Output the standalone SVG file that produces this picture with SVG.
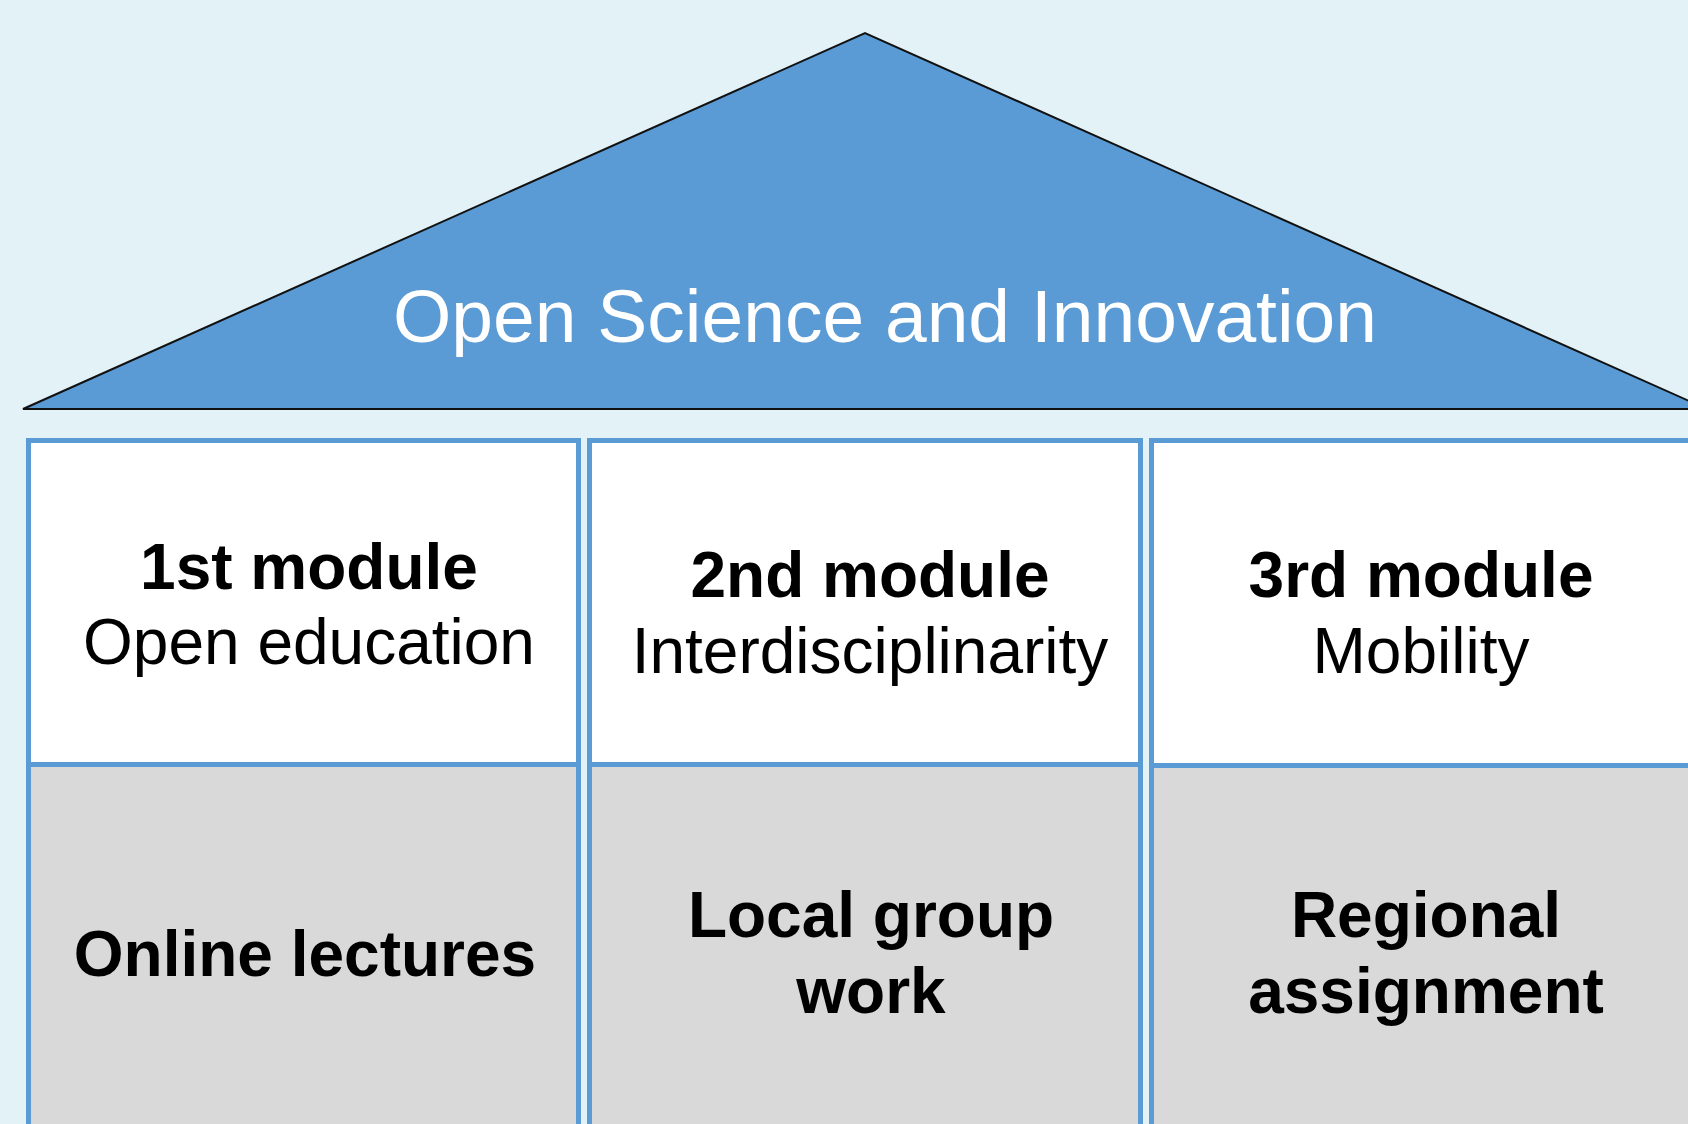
<svg xmlns="http://www.w3.org/2000/svg" width="1688" height="1124" viewBox="0 0 1688 1124">
<style>
.bg{fill:#E2F2F7}
.roof{fill:#5B9BD5;stroke:#111111;stroke-width:2;stroke-linejoin:miter}
.top{fill:#FFFFFF;stroke:#5B9BD5;stroke-width:5}
.bot{fill:#D9D9D9;stroke:#5B9BD5;stroke-width:5}
text{font-family:"Liberation Sans",Arial,sans-serif;text-anchor:middle;fill:#000000}
.title{font-size:75px;fill:#FFFFFF}
.b{font-size:64px;font-weight:bold}
.r{font-size:64px}
</style>
<rect class="bg" x="0" y="0" width="1688" height="1124"/>
<g id="roof">
<polygon class="roof" points="23,409 865,33 1707,409"/>
<text class="title" x="885" y="342">Open Science and Innovation</text>
</g>
<g id="module1">
<rect class="top" x="28.5" y="440.5" width="550" height="324"/>
<rect class="bot" x="28.5" y="764.5" width="550" height="400"/>
<text class="b" x="309" y="589">1st module</text>
<text class="r" x="309" y="664">Open education</text>
<text class="b" x="305" y="976">Online lectures</text>
</g>
<g id="module2">
<rect class="top" x="589.5" y="440.5" width="551" height="324"/>
<rect class="bot" x="589.5" y="764.5" width="551" height="400"/>
<text class="b" x="870" y="597">2nd module</text>
<text class="r" x="870" y="673">Interdisciplinarity</text>
<text class="b" x="871" y="937">Local group</text>
<text class="b" x="871" y="1013">work</text>
</g>
<g id="module3">
<rect class="top" x="1151.5" y="440.5" width="551" height="325"/>
<rect class="bot" x="1151.5" y="765.5" width="551" height="400"/>
<text class="b" x="1421" y="597">3rd module</text>
<text class="r" x="1421" y="673">Mobility</text>
<text class="b" x="1426" y="937">Regional</text>
<text class="b" x="1426" y="1013">assignment</text>
</g>
<g id="connectors"></g>
</svg>
